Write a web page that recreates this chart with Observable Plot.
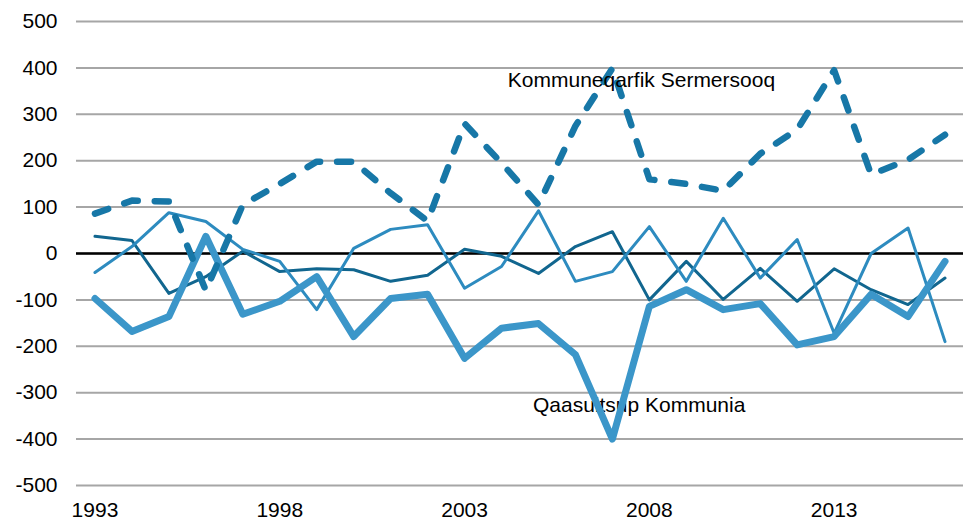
<!DOCTYPE html>
<html>
<head>
<meta charset="utf-8">
<script src="https://cdn.jsdelivr.net/npm/d3@7"></script>
<script src="https://cdn.jsdelivr.net/npm/@observablehq/plot@0.6"></script>
<style>
  html, body { margin: 0; padding: 0; background: #fff; }
  #chart svg { display: block; }
</style>
</head>
<body>
<div id="chart"></div>
<script>
const years = [1993,1994,1995,1996,1997,1998,1999,2000,2001,2002,2003,2004,2005,2006,2007,2008,2009,2010,2011,2012,2013,2014,2015,2016];
const sermersooq = [86,114,112,-80,105,150,198,198,130,70,280,195,105,275,399,160,150,135,215,267,395,170,202,256];
const qaasuitsup = [-97,-168,-136,37,-131,-103,-50,-179,-97,-88,-226,-161,-151,-218,-400,-114,-78,-121,-108,-197,-179,-88,-136,-17];
const seriesDark = [37,28,-86,-50,5,-39,-33,-35,-60,-47,9,-6,-43,15,47,-100,-17,-99,-32,-103,-33,-78,-110,-53];
const seriesMid = [-41,15,88,69,9,-17,-121,11,52,62,-75,-28,92,-60,-39,58,-60,76,-53,30,-172,0,55,-190];

const xTicks = [1993, 1998, 2003, 2008, 2013];
const yTicks = [-500,-400,-300,-200,-100,0,100,200,300,400,500];

const labelTexts = ["Kommuneqarfik Sermersooq", "Qaasuitsup Kommunia"];
const labelYears = [2004.17, 2004.85];
const labelValues = [374, -327];

const toRows = (vals) => years.map((year, i) => ({year, value: vals[i]}));
const labels = labelTexts.map((text, i) => ({text, year: labelYears[i], value: labelValues[i]}));

const chart = Plot.plot({
  width: 967,
  height: 520,
  marginLeft: 76,
  marginRight: 4,
  marginTop: 21,
  marginBottom: 35,
  style: {fontFamily: "'Liberation Sans', Arial, sans-serif", fontSize: "21px", color: "black", background: "white", overflow: "visible"},
  x: {domain: [1992.5, 2016.5], label: null},
  y: {domain: [-500, 500], label: null},
  marks: [
    Plot.gridY(yTicks, {stroke: "#a6a6a6", strokeOpacity: 1, strokeWidth: 2}),
    Plot.ruleY([0], {stroke: "black", strokeWidth: 2.5}),
    Plot.axisX({ticks: xTicks, tickSize: 0, tickPadding: 17, tickFormat: d => String(d), fill: "black", label: null}),
    Plot.axisY({ticks: yTicks, tickSize: 0, tickPadding: 19, tickFormat: d => String(d), fill: "black", label: null}),
    Plot.line(toRows(seriesDark), {x: "year", y: "value", stroke: "#11668f", strokeWidth: 3, strokeLinejoin: "round"}),
    Plot.line(toRows(seriesMid), {x: "year", y: "value", stroke: "#2d8bbf", strokeWidth: 3, strokeLinejoin: "round"}),
    Plot.text(labels.slice(1), {x: "year", y: "value", text: "text", textAnchor: "start", lineAnchor: "middle", fontSize: 21, fill: "black"}),
    Plot.line(toRows(qaasuitsup), {x: "year", y: "value", stroke: "#3b96c9", strokeWidth: 7, strokeLinejoin: "round", strokeLinecap: "round"}),
    Plot.line(toRows(sermersooq), {x: "year", y: "value", stroke: "#1777a7", strokeWidth: 6.5, strokeDasharray: "14,17", strokeLinecap: "round", strokeLinejoin: "round"}),
    Plot.text(labels.slice(0, 1), {x: "year", y: "value", text: "text", textAnchor: "start", lineAnchor: "middle", fontSize: 21, fill: "black"})
  ]
});
document.getElementById("chart").appendChild(chart);
</script>
</body>
</html>
